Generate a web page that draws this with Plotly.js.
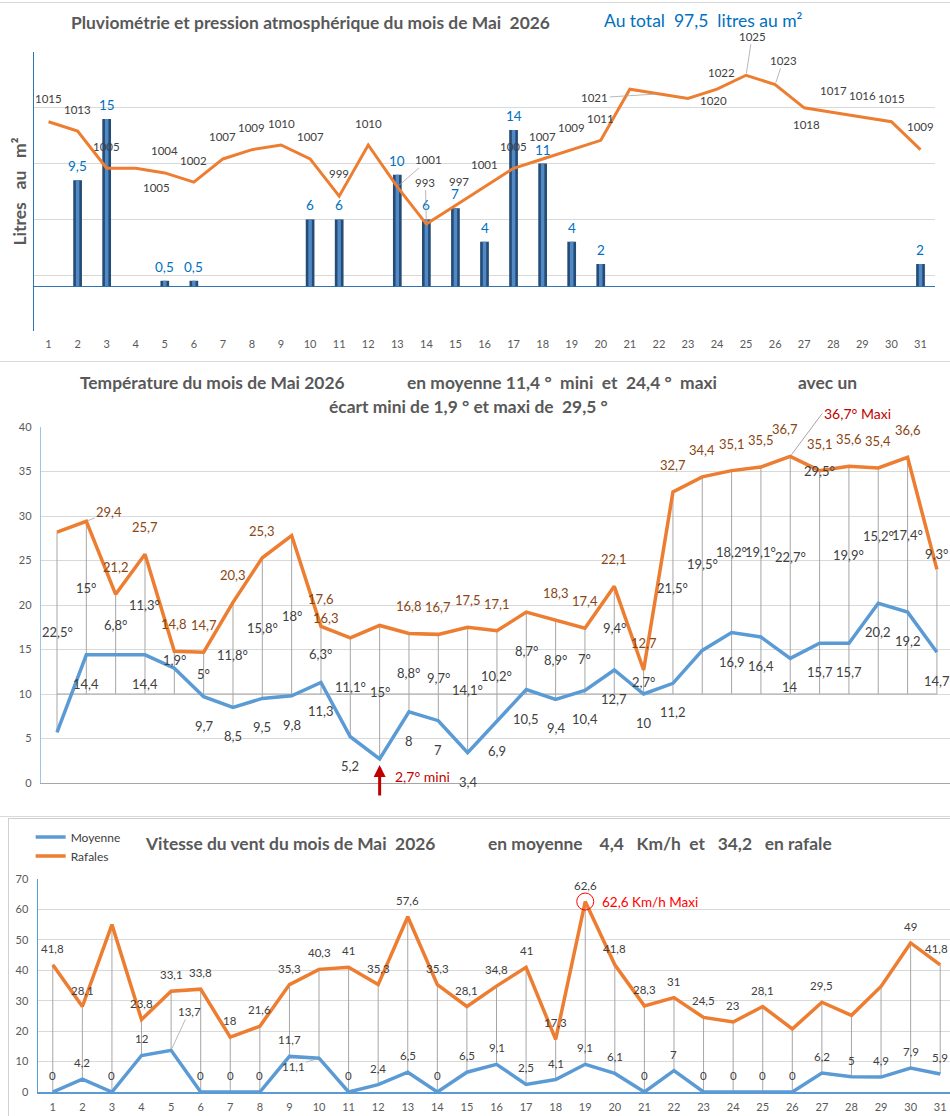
<!DOCTYPE html>
<html><head><meta charset="utf-8">
<script src="https://cdn.plot.ly/plotly-3.0.1.min.js"></script>
<style>
body{margin:0;background:#fff;width:950px;height:1116px;overflow:hidden;position:relative}
.box{position:absolute;overflow:hidden}
.sep{position:absolute;left:0;width:950px;height:1px;background:#d9d9d9}
</style></head><body>
<div class="sep" style="top:2px"></div>
<div id="c1" class="box" style="left:0;top:0;width:950px;height:360px"></div>
<div class="sep" style="top:361px"></div>
<div class="box" style="left:0;top:362px;width:950px;height:446px"><div id="c2" style="width:960px;height:446px"></div></div>
<div class="sep" style="top:816px"></div>
<div class="box" style="left:8px;top:818px;width:942px;height:298px;border-left:1px solid #d0d0d0;border-top:1px solid #d0d0d0"></div>
<div class="box" style="left:0;top:818px;width:950px;height:298px"><div id="c3" style="width:960px;height:298px"></div></div>
<script>
// ---------- DATA ----------
const days=[1,2,3,4,5,6,7,8,9,10,11,12,13,14,15,16,17,18,19,20,21,22,23,24,25,26,27,28,29,30,31];
// Chart 1 : rain (litres/m²) and pressure (hPa)
const rain=[0,9.5,15,0,0.5,0.5,0,0,0,6,6,0,10,6,7,4,14,11,4,2,0,0,0,0,0,0,0,0,0,0,2];
const pressure=[1015,1013,1005,1005,1004,1002,1007,1009,1010,1007,999,1010,1001,993,997,1001,1005,1007,1009,1011,1022,1021,1020,1022,1025,1023,1018,1017,1016,1015,1009];
// Chart 2 : temperatures
const tMax=[28.2,29.4,21.2,25.7,14.8,14.7,20.3,25.3,27.8,17.6,16.3,17.7,16.8,16.7,17.5,17.1,19.2,18.3,17.4,22.1,12.7,32.7,34.4,35.1,35.5,36.7,35.1,35.6,35.4,36.6,24.0];
const tMin=[5.7,14.4,14.4,14.4,12.9,9.7,8.5,9.5,9.8,11.3,5.2,2.7,8,7,3.4,6.9,10.5,9.4,10.4,12.7,10,11.2,14.9,16.9,16.4,14,15.7,15.7,20.2,19.2,14.7];
const ecart=[22.5,15,6.8,11.3,1.9,5,11.8,15.8,18,6.3,11.1,15,8.8,9.7,14.1,10.2,8.7,8.9,7,9.4,2.7,21.5,19.5,18.2,19.1,22.7,29.5,19.9,15.2,17.4,9.3];
const tRef=[10,10,10,10,10,10,10,10,10,10,10,10,10,10,10,10,10,10,10,10,10,10,10,10,10,10,10,10,10,10,10];
// Chart 3 : wind (km/h)
const windAvg=[0,4.2,0,12,13.7,0,0,0,11.7,11.1,0,2.4,6.5,0,6.5,9.1,2.5,4.1,9.1,6.1,0,7,0,0,0,0,6.2,5,4.9,7.9,5.9];
const windGust=[41.8,28.1,55,23.8,33.1,33.8,18,21.6,35.3,40.3,41,35.3,57.6,35.3,28.1,34.8,41,17.3,62.6,41.8,28.3,31,24.5,23,28.1,20.7,29.5,25.2,34.7,49,41.8];

// labels not displayed in the original
const hidePress=[21], hideMax=[1,9,12,17,31], hideMin=[1,3,5,12,23], hideGust=[3,26,28,29];

// ---------- HELPERS ----------
const F='Lato, "Open Sans", sans-serif';
const GRAY='#595959', DARK='#404040';
function fmt(v){return String(v).replace('.',',');}
function nb(s){return s.replace(/ /g,'\u00a0');}
function mkLabels(ys,texts,base,over,yref){
  const out=[];
  ys.forEach((y,i)=>{
    const t=texts[i]; if(t===''||t==null) return;
    const o=Object.assign({dx:0,dy:base.dy,leader:false},over[i+1]||{});
    const a={x:days[i],y:y,xref:'x',yref:yref||'y',text:t,font:{family:F,size:base.size,color:base.color}};
    if(o.leader){Object.assign(a,{showarrow:true,ax:o.dx,ay:-o.dy,arrowhead:0,arrowwidth:0.8,arrowcolor:'#a6a6a6',standoff:2});}
    else{Object.assign(a,{showarrow:false,xshift:o.dx,yshift:o.dy});}
    out.push(a);
  });
  return out;
}
function paper(g,px,py){return {xref:'paper',yref:'paper',x:(px-g.l)/g.w,y:1+(g.t-py)/g.h};}
function title(g,px,py,text,size,color,bold){
  return Object.assign(paper(g,px,py),{text:bold?'<b>'+nb(text)+'</b>':nb(text),showarrow:false,xanchor:'center',yanchor:'middle',font:{family:F,size:size,color:color}});
}
const cfg={staticPlot:true,displayModeBar:false};
const TS=17.4;

// ---------- CHART 1 ----------
(function(){
  const g={l:34,t:52,w:901,h:279};
  const traces=[
    {type:'bar',x:days,y:rain,width:0.3,marker:{color:'#254c75',line:{width:0}},hoverinfo:'skip'},
    {type:'bar',x:days,y:rain,width:0.12,marker:{color:'#5089c6',line:{width:0}},hoverinfo:'skip'},
    {type:'scatter',mode:'lines',x:days,y:pressure,yaxis:'y2',line:{color:'#ed7d31',width:3},hoverinfo:'skip'}
  ];
  const rainTxt=rain.map(v=>v?fmt(v):'');
  const pressTxt=pressure.map((v,i)=>hidePress.includes(i+1)?'':String(v));
  const pressOver={1:{dy:23},4:{dx:21,dy:-19},11:{dy:23},13:{dx:31,dy:27,leader:true},14:{dx:-1,dy:42,leader:true},15:{dx:4,dy:24},
    22:{dx:-64,dy:-4,leader:true},23:{dx:26,dy:-2},24:{dx:4,dy:17},25:{dx:6,dy:39,leader:true},26:{dx:8,dy:24,leader:true},27:{dx:2,dy:-17},30:{dy:23},31:{dy:23}};
  const ann=[].concat(
    mkLabels(rain,rainTxt,{dy:14,size:13.5,color:'#0070c0'},{},'y'),
    mkLabels(pressure,pressTxt,{dy:22,size:11.5,color:DARK},pressOver,'y2'),
    [title(g,310,22,'Pluviométrie et pression atmosphérique du mois de Mai  2026',TS,GRAY,true),
     title(g,703,20,'Au total  97,5  litres au m²',17.5,'#0070c0',false)]
  );
  Plotly.newPlot('c1',traces,{
    width:950,height:360,margin:{l:34,r:15,t:52,b:29},paper_bgcolor:'rgba(0,0,0,0)',plot_bgcolor:'rgba(0,0,0,0)',
    showlegend:false,barmode:'overlay',font:{family:F,color:GRAY},
    xaxis:{range:[0.5,31.5],tickvals:days,ticktext:days.map(String),tickfont:{size:11,color:GRAY},showgrid:false,zeroline:false,showline:false,ticks:'',ticklabelstandoff:5},
    yaxis:{range:[-4,21],tick0:1,dtick:5,showticklabels:false,gridcolor:'#d9d9d9',zeroline:true,zerolinecolor:'#2e75b6',zerolinewidth:1.5,showline:true,linecolor:'#2e75b6',linewidth:1.5,
      title:{text:'<b>'+nb('Litres   au   m²')+'</b>',font:{size:17.5,color:GRAY},standoff:1}},
    yaxis2:{overlaying:'y',range:[970,1030],showgrid:false,showticklabels:false,zeroline:false,showline:false},
    annotations:ann
  },cfg);
})();

// ---------- CHART 2 ----------
(function(){
  const g={l:41,t:65,w:919,h:356};
  const hlx=[],hly=[];
  days.forEach((d,i)=>{hlx.push(d,d,null);hly.push(Math.max(tMax[i],tRef[i]),Math.min(tMin[i],tRef[i]),null);});
  const mid=tMax.map((v,i)=>(v+tMin[i])/2);
  const traces=[
    {type:'scatter',mode:'lines',x:hlx,y:hly,line:{color:'#a6a6a6',width:1},hoverinfo:'skip'},
    {type:'scatter',mode:'lines',x:days,y:tRef,line:{color:'#a6a6a6',width:1.2},hoverinfo:'skip'},
    {type:'scatter',mode:'lines',x:days,y:tMin,line:{color:'#5b9bd5',width:3.5},hoverinfo:'skip'},
    {type:'scatter',mode:'lines',x:days,y:tMax,line:{color:'#ed7d31',width:3.5},hoverinfo:'skip'}
  ];
  const maxTxt=tMax.map((v,i)=>hideMax.includes(i+1)?'':fmt(v));
  const minTxt=tMin.map((v,i)=>hideMin.includes(i+1)?'':fmt(v));
  const ecTxt=ecart.map(v=>fmt(v)+'°');
  const maxOver={2:{dx:23,dy:9.5,leader:true},11:{dx:-24,dy:20},26:{dx:-5,dy:27}};
  const ecOver={27:{dy:86},31:{dy:57}};
  const iMax=tMax.indexOf(Math.max.apply(null,tMax));
  const iMin=tMin.indexOf(Math.min.apply(null,tMin));
  const ann=[].concat(
    mkLabels(tMax,maxTxt,{dy:27,size:13,color:'#8a4514'},maxOver,'y'),
    mkLabels(tMin,minTxt,{dy:-29,size:13,color:DARK},{},'y'),
    mkLabels(mid,ecTxt,{dy:0,size:13,color:DARK},ecOver,'y'),
    [{x:days[iMax],y:tMax[iMax],xref:'x',yref:'y',text:fmt(tMax[iMax])+'° Maxi',showarrow:true,ax:32,ay:-43,xanchor:'left',
       arrowhead:0,arrowwidth:1,arrowcolor:'#a6a6a6',standoff:2,font:{family:F,size:14,color:'#c00000'}},
     {x:days[iMin],y:tMin[iMin],xref:'x',yref:'y',text:'',showarrow:true,ax:0,ay:38,arrowhead:2,arrowsize:0.8,arrowwidth:3,arrowcolor:'#c00000',standoff:6},
     {x:days[iMin],y:tMin[iMin],xref:'x',yref:'y',text:fmt(tMin[iMin])+'° mini',showarrow:false,xanchor:'left',xshift:13,yshift:-17.5,font:{family:F,size:14,color:'#c00000'}},
     title(g,212,20,'Température du mois de Mai 2026',TS,GRAY,true),
     title(g,562,20,'en moyenne 11,4 °  mini  et  24,4 °  maxi',TS,GRAY,true),
     title(g,827,20,'avec un',TS,GRAY,true),
     title(g,468,44,'écart mini de 1,9 ° et maxi de  29,5 °',TS,GRAY,true)]
  );
  Plotly.newPlot('c2',traces,{
    width:960,height:446,margin:{l:41,r:0,t:65,b:25},paper_bgcolor:'rgba(0,0,0,0)',plot_bgcolor:'rgba(0,0,0,0)',
    showlegend:false,font:{family:F,color:GRAY},
    xaxis:{range:[0.4545,31.787],showticklabels:false,showgrid:false,zeroline:false,showline:true,linecolor:'#a6a6a6',linewidth:1,ticks:''},
    yaxis:{range:[0,40],dtick:5,gridcolor:'#d9d9d9',zeroline:false,showline:true,linecolor:'#9dc3e6',linewidth:1.2,tickfont:{size:11,color:GRAY},ticks:'',ticklabelstandoff:6},
    annotations:ann
  },cfg);
})();

// ---------- CHART 3 ----------
(function(){
  const g={l:38,t:58,w:917,h:216};
  const hlx=[],hly=[];
  days.forEach((d,i)=>{hlx.push(d,d,null);hly.push(windGust[i],windAvg[i],null);});
  const iMax=windGust.indexOf(Math.max.apply(null,windGust));
  const traces=[
    {type:'scatter',mode:'lines',x:hlx,y:hly,line:{color:'#a6a6a6',width:1},hoverinfo:'skip',showlegend:false},
    {type:'scatter',mode:'lines',name:'Moyenne',x:days,y:windAvg,line:{color:'#5b9bd5',width:3.5},hoverinfo:'skip'},
    {type:'scatter',mode:'lines',name:'Rafales',x:days,y:windGust,line:{color:'#ed7d31',width:3.5},hoverinfo:'skip'},
    {type:'scatter',mode:'markers',x:[days[iMax]],y:[windGust[iMax]],marker:{symbol:'circle-open',size:17,color:'#ff0000',line:{width:1}},showlegend:false,hoverinfo:'skip'}
  ];
  const avgTxt=windAvg.map(v=>fmt(v));
  const gustTxt=windGust.map((v,i)=>hideGust.includes(i+1)?'':fmt(v));
  const avgOver={5:{dx:18,dy:39,leader:true},10:{dx:-26,dy:-8,leader:true}};
  const gustOver={31:{dx:-4,dy:16.5}};
  const ann=[].concat(
    mkLabels(windAvg,avgTxt,{dy:16.5,size:11.5,color:DARK},avgOver,'y'),
    mkLabels(windGust,gustTxt,{dy:16.5,size:11.5,color:DARK},gustOver,'y'),
    [{x:days[iMax],y:windGust[iMax],xref:'x',yref:'y',text:fmt(windGust[iMax])+' Km/h Maxi',showarrow:false,xanchor:'left',xshift:15,font:{family:F,size:13.5,color:'#ff0000'}},
     title(g,290,22,'Vitesse du vent du mois de Mai  2026',TS,GRAY,true),
     title(g,660,22,'en moyenne    4,4   Km/h  et   34,2   en rafale',TS,GRAY,true)]
  );
  Plotly.newPlot('c3',traces,{
    width:960,height:298,margin:{l:38,r:5,t:58,b:24},paper_bgcolor:'rgba(0,0,0,0)',plot_bgcolor:'rgba(0,0,0,0)',
    font:{family:F,color:GRAY},showlegend:true,
    legend:{x:-0.008,y:1.265,xanchor:'left',yanchor:'top',bgcolor:'rgba(0,0,0,0)',font:{size:12,color:DARK},tracegroupgap:0,itemwidth:30},
    xaxis:{range:[0.5,31.5],tickvals:days,ticktext:days.map(String),tickfont:{size:11,color:GRAY},showgrid:false,zeroline:false,showline:true,linecolor:'#5b9bd5',linewidth:1.5,ticks:'',ticklabelstandoff:4},
    yaxis:{range:[0,70],dtick:10,gridcolor:'#d9d9d9',zeroline:false,showline:true,linecolor:'#5b9bd5',linewidth:1.5,tickfont:{size:11,color:GRAY},ticks:'',ticklabelstandoff:6},
    annotations:ann
  },cfg);
})();
</script>
</body></html>
